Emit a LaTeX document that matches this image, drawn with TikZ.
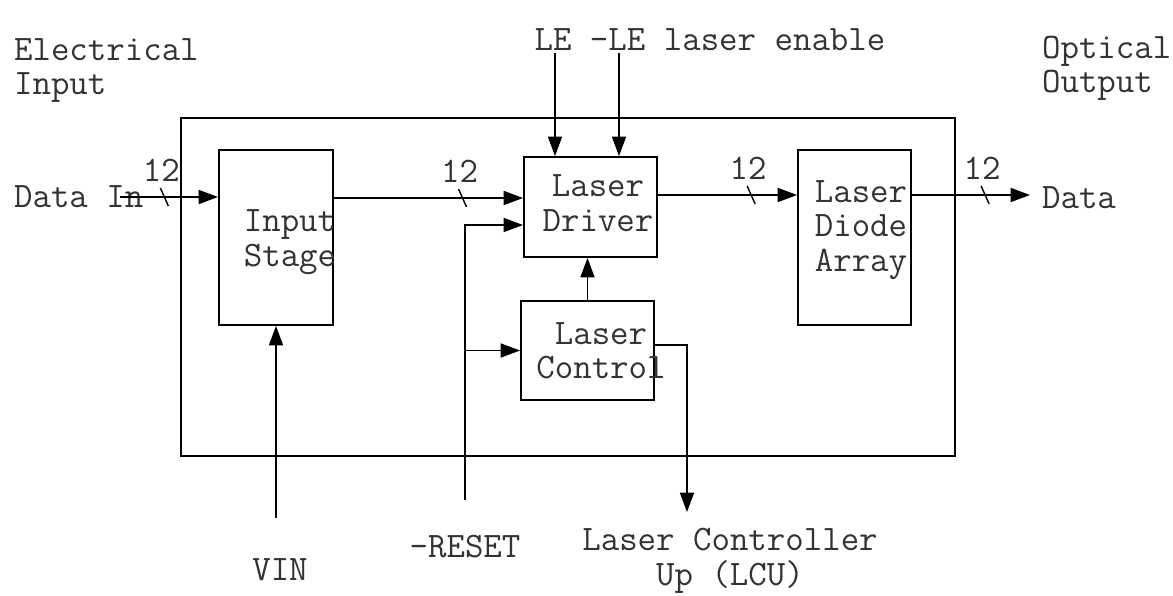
\documentclass[tikz,border=0pt]{standalone}
\usepackage{tikz}
\usetikzlibrary{calc,arrows.meta}
\definecolor{inkA}{HTML}{333333}
\tikzset{
  blk/.style={draw, line width=1.1pt, inner sep=0pt},
  txt/.style={font=\ttfamily\fontsize{20.4}{19.6}\selectfont, text=inkA, inner sep=1pt, align=center},
  sig/.style={line width=0.8pt, -{Triangle[length=11pt,width=8pt]}},
  wire/.style={line width=0.8pt}
}
\newcommand{\busmark}[2]{%
  \draw[wire] ($(#1)+(-4,-9)$) -- ($(#1)+(4,9)$);
  \node[txt] (#1w) at ($(#1)+(-3,-27)$) {#2};
}

\begin{document}
\begin{tikzpicture}[x={(0.02cm,0)}, y={(0,-0.02cm)}]
  \useasboundingbox (0,0) rectangle (1173,595);

  % enclosure
  \node[blk, minimum width=15.48cm, minimum height=6.76cm] (frame) at (568,287) {};

  % blocks
  \node[blk, minimum width=2.28cm, minimum height=3.5cm] (ist) at (276,237.5) {};
  \node[blk, minimum width=2.66cm, minimum height=2.0cm] (drv) at (590.5,207) {};
  \node[blk, minimum width=2.66cm, minimum height=1.98cm] (ctl) at (587.5,350.5) {};
  \node[blk, minimum width=2.26cm, minimum height=3.5cm] (dio) at (854.5,237.5) {};
  \node[txt] (istT) at (290,242) {Input\\Stage};
  \node[txt] (drvT) at (598,203) {Laser\\Driver};
  \node[txt] (ctlT) at (601,351) {Laser\\Control};
  \node[txt] (dioT) at (861,230) {Laser\\Diode\\Array};

  % outside labels
  \node[txt, anchor=north west, align=left] (ein) at (12,36) {Electrical\\Input};
  \node[txt, anchor=north west, align=left] (oout) at (1040,34) {Optical\\Output};
  \node[txt, anchor=west] (din) at (12,197) {Data In};
  \node[txt, anchor=west] (dout) at (1040,198) {Data};
  \node[txt] (le) at (710,40) {LE -LE laser enable};
  \node[txt] (rst) at (465,547) {-RESET};
  \node[txt] (vin) at (280,570) {VIN};
  \node[txt] (lcu) at (730,561) {Laser Controller\\Up (LCU)};

  % data path
  \draw[sig] ([xshift=-0.5cm]din.east) -- coordinate[pos=0.45] (b1) (ist.west |- din.east);
  \draw[sig] (ist.east |- 0,198) -- coordinate[pos=0.68] (b2) (drv.west |- 0,198);
  \draw[sig] (drv.east |- 0,195) -- coordinate[pos=0.67] (b3) (dio.west |- 0,195);
  \draw[sig] (dio.east |- 0,195) -- coordinate[pos=0.62] (b4) ([xshift=-0.2cm]dout.west |- 0,195);
  \busmark{b1}{12}
  \busmark{b2}{12}
  \busmark{b3}{12}
  \busmark{b4}{12}

  % enables
  \draw[sig] (le.south -| 555,0) -- (drv.north -| 555,0);
  \draw[sig] (le.south -| 619,0) -- (drv.north -| 619,0);

  % reset
  \coordinate (rstTop) at (465,500);
  \draw[sig] (rstTop) |- (drv.west |- 0,225);
  \draw[sig] (rstTop |- ctl.west) -- (ctl.west);

  % control
  \draw[sig] (ctl.north) -- (ctl.north |- drv.south);
  \draw[sig] (ctl.east |- 0,345) -| (687,512);

  % supply
  \draw[sig] (ist.south |- 0,518) -- (ist.south);
\end{tikzpicture}
\end{document}
